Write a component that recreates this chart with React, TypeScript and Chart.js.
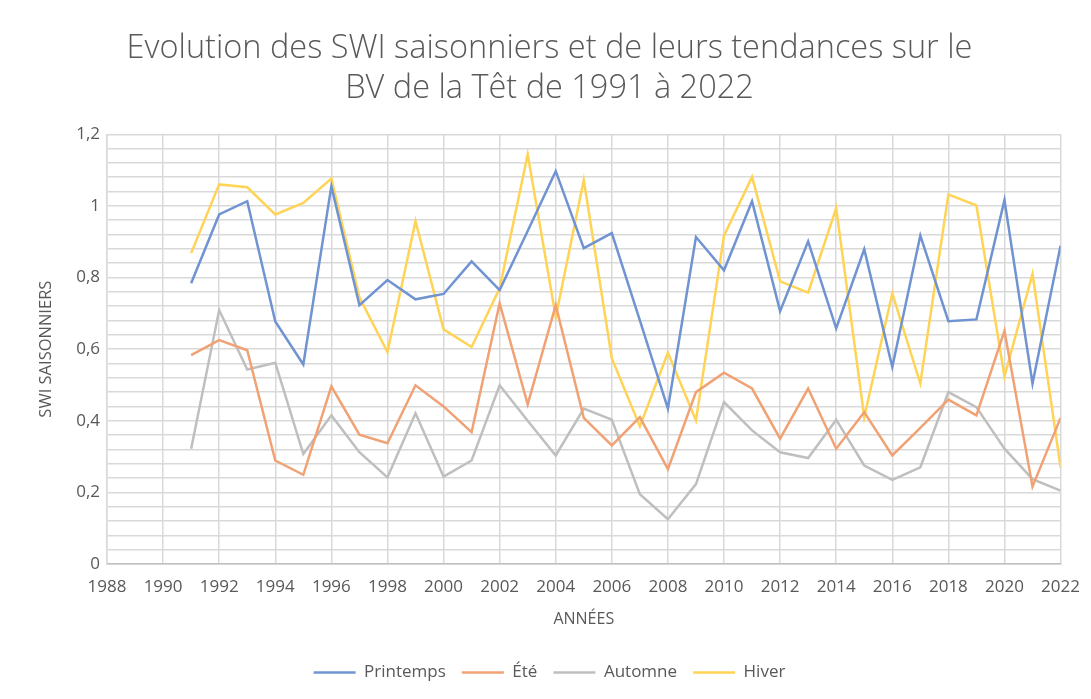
import React, { useEffect, useRef } from "react";
import { Chart, registerables } from "chart.js";

Chart.register(...registerables);

const years = [1991,1992,1993,1994,1995,1996,1997,1998,1999,2000,2001,2002,2003,2004,2005,2006,2007,2008,2009,2010,2011,2012,2013,2014,2015,2016,2017,2018,2019,2020,2021,2022];

const printemps = [0.784,0.976,1.013,0.677,0.557,1.055,0.723,0.793,0.739,0.754,0.845,0.765,0.93,1.097,0.882,0.924,0.68,0.434,0.913,0.82,1.013,0.706,0.901,0.658,0.879,0.55,0.917,0.678,0.683,1.016,0.504,0.889];
const ete = [0.583,0.625,0.597,0.289,0.249,0.496,0.361,0.337,0.499,0.44,0.368,0.728,0.446,0.723,0.408,0.331,0.41,0.265,0.48,0.534,0.49,0.35,0.49,0.322,0.424,0.303,0.38,0.459,0.415,0.651,0.216,0.408];
const automne = [0.322,0.709,0.543,0.562,0.307,0.415,0.312,0.242,0.421,0.244,0.289,0.499,0.40,0.303,0.434,0.403,0.195,0.125,0.223,0.452,0.373,0.312,0.296,0.403,0.275,0.235,0.27,0.48,0.438,0.322,0.237,0.205];
const hiver = [0.868,1.06,1.052,0.976,1.008,1.076,0.745,0.592,0.957,0.655,0.606,0.77,1.144,0.69,1.072,0.574,0.384,0.59,0.401,0.917,1.081,0.789,0.758,0.994,0.41,0.756,0.504,1.032,1.001,0.524,0.81,0.27];

const seriesNames = ["Printemps", "Été", "Automne", "Hiver"];
const seriesColors = ["#7093d2", "#f0a274", "#bfbfbf", "#ffd456"];
const seriesValues = [printemps, ete, automne, hiver];

const titleLines = ["Evolution des SWI saisonniers et de leurs tendances sur le", "BV de la Têt de 1991 à 2022"];

export default function App() {
  const ref = useRef<HTMLCanvasElement | null>(null);
  useEffect(() => {
    if (!ref.current) return;
    const font = "'Open Sans', 'Liberation Sans', sans-serif";
    const textColor = "#595959";
    const chart = new Chart(ref.current, {
      type: "line",
      data: {
        datasets: seriesNames.map((name, i) => ({
          label: name,
          data: years.map((y, j) => ({ x: y, y: seriesValues[i][j] })),
          borderColor: seriesColors[i],
          backgroundColor: seriesColors[i],
          borderWidth: 2.5,
          pointRadius: 0,
          pointHoverRadius: 0,
          tension: 0,
          fill: false,
        })),
      },
      options: {
        animation: false,
        responsive: false,
        maintainAspectRatio: false,
        layout: { padding: { left: 28, right: 20, top: 0, bottom: 0 } },
        plugins: {
          title: {
            display: true,
            text: titleLines,
            color: textColor,
            font: { family: font, size: 32.5, weight: 300, lineHeight: 1.25 },
            padding: { top: 20, bottom: 25 },
          },
          legend: {
            position: "bottom",
            labels: {
              color: textColor,
              font: { family: font, size: 17 },
              boxWidth: 42,
              boxHeight: 2.5,
              padding: 16,
              generateLabels: (c: any) =>
                Chart.defaults.plugins.legend.labels.generateLabels(c).map((l: any) => ({ ...l, lineWidth: 0 })),
            },
          },
          tooltip: { enabled: false },
        },
        scales: {
          x: {
            type: "linear",
            min: 1988,
            max: 2022,
            afterFit: (s: any) => { s.height = 84; },
            ticks: {
              stepSize: 2,
              color: textColor,
              font: { family: font, size: 17 },
              padding: 3,
              maxRotation: 0,
              callback: (v: any) => String(v),
            },
            grid: { color: "#d9d9d9", lineWidth: 1.5, drawTicks: true, tickLength: 10, tickColor: "rgba(0,0,0,0)" },
            border: { color: "#bfbfbf", width: 1.5 },
            title: {
              display: true,
              text: "ANNÉES",
              color: textColor,
              font: { family: font, size: 16 },
              padding: { top: 12, bottom: 19 },
            },
          },
          y: {
            min: 0,
            max: 1.2,
            afterFit: (s: any) => { s.width = 71; },
            ticks: {
              stepSize: 0.04,
              autoSkip: false,
              color: textColor,
              font: { family: font, size: 17 },
              padding: 7,
              callback: (v: any) => {
                const n = Math.round(Number(v) * 100);
                if (n % 20 !== 0) return "";
                return String(n / 100).replace(".", ",");
              },
            },
            grid: { color: "#d9d9d9", lineWidth: 1.5, drawTicks: false },
            border: { color: "#d9d9d9", width: 1.5 },
            title: {
              display: true,
              text: "SWI SAISONNIERS",
              color: textColor,
              font: { family: font, size: 16.5 },
              padding: { top: 0, bottom: 0 },
            },
          },
        },
      },
    });
    return () => chart.destroy();
  }, []);
  return (
    <div style={{ width: 1075, height: 683 }}>
      <canvas ref={ref} width={1075} height={683} style={{ display: "block" }} />
    </div>
  );
}
